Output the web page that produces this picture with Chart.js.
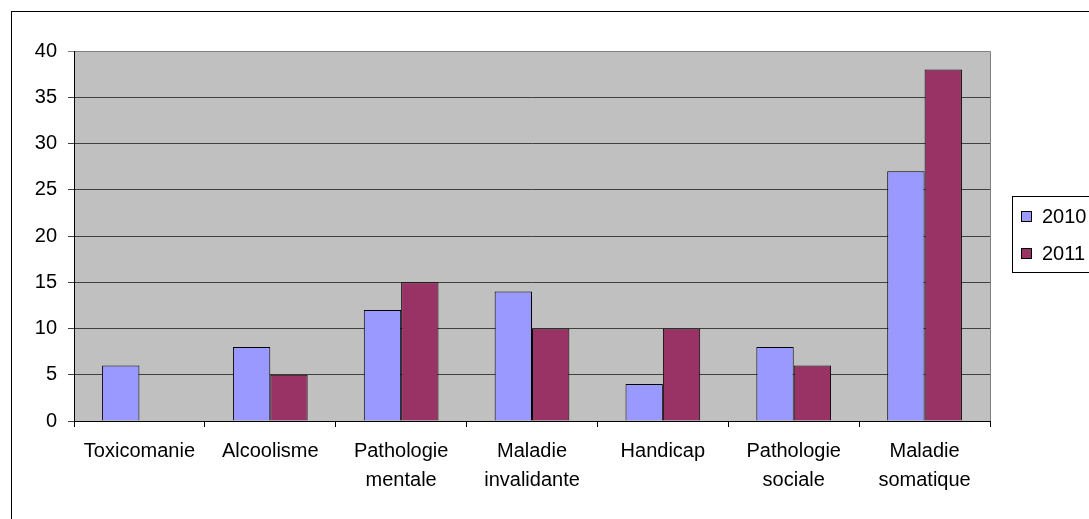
<!DOCTYPE html>
<html>
<head>
<meta charset="utf-8">
<script src="https://cdn.jsdelivr.net/npm/chart.js@4/dist/chart.umd.min.js"></script>
<style>
  html, body { margin: 0; padding: 0; background: #ffffff; }
  #wrap { width: 1089px; height: 519px; position: relative; }
</style>
</head>
<body>
<div id="wrap"><canvas id="c" width="1089" height="519"></canvas></div>
<script>
// Categories (multi-line labels as arrays)
const categories = [
  'Toxicomanie',
  'Alcoolisme',
  ['Pathologie', 'mentale'],
  ['Maladie', 'invalidante'],
  'Handicap',
  ['Pathologie', 'sociale'],
  ['Maladie', 'somatique']
];
const seriesNames = ['2010', '2011'];
const values2010 = [6, 8, 12, 14, 4, 8, 27];
const values2011 = [null, 5, 15, 10, 10, 6, 38];
const yTicks = [0, 5, 10, 15, 20, 25, 30, 35, 40];

const colors = ['#9999FF', '#993366'];
const FONT = 'Liberation Sans, Arial, sans-serif';

// Grey plot-area background, plot frame and outer chart frame
const framePlugin = {
  id: 'frame',
  beforeDraw(chart) {
    const { ctx, chartArea: a } = chart;
    ctx.save();
    ctx.fillStyle = '#ffffff';
    ctx.fillRect(0, 0, chart.width, chart.height);
    ctx.fillStyle = '#C0C0C0';
    ctx.fillRect(a.left, a.top, a.right - a.left, a.bottom - a.top);
    ctx.strokeStyle = '#808080';
    ctx.lineWidth = 1;
    ctx.beginPath();
    ctx.moveTo(a.left, Math.round(a.top) + 0.5);
    ctx.lineTo(Math.round(a.right) + 0.5, Math.round(a.top) + 0.5);
    ctx.lineTo(Math.round(a.right) + 0.5, a.bottom);
    ctx.stroke();
    ctx.strokeStyle = '#000000';
    ctx.strokeRect(11.5, 11.5, chart.width + 40, chart.height + 40);
    ctx.restore();
  }
};

// Boxed legend on the right side
const boxLegendPlugin = {
  id: 'boxLegend',
  afterDraw(chart) {
    const { ctx } = chart;
    const x = 1012.5, y = 196.5, w = 120, h = 76;
    ctx.save();
    ctx.fillStyle = '#ffffff';
    ctx.fillRect(x, y, w, h);
    ctx.strokeStyle = '#000000';
    ctx.lineWidth = 1;
    ctx.strokeRect(x, y, w, h);
    const rows = [216, 253];
    chart.data.datasets.forEach((ds, i) => {
      const cy = rows[i];
      ctx.fillStyle = ds.backgroundColor;
      ctx.fillRect(1021, cy - 5, 11, 11);
      ctx.strokeStyle = '#000000';
      ctx.strokeRect(1021.5, cy - 4.5, 10, 10);
      ctx.fillStyle = '#000000';
      ctx.font = '20px ' + FONT;
      ctx.textBaseline = 'middle';
      ctx.textAlign = 'left';
      ctx.fillText(ds.label, 1042, cy + 1);
    });
    ctx.restore();
  }
};

new Chart(document.getElementById('c'), {
  type: 'bar',
  data: {
    labels: categories,
    datasets: [
      { label: seriesNames[0], data: values2010, backgroundColor: colors[0], borderColor: '#000000', borderWidth: 1 },
      { label: seriesNames[1], data: values2011, backgroundColor: colors[1], borderColor: '#000000', borderWidth: 1 }
    ]
  },
  options: {
    responsive: false,
    animation: false,
    devicePixelRatio: 1,
    layout: { padding: { left: 0, top: 51, right: 99, bottom: 0 } },
    datasets: { bar: { categoryPercentage: 0.571, barPercentage: 1.0 } },
    plugins: { legend: { display: false }, tooltip: { enabled: false } },
    scales: {
      x: {
        offset: true,
        grid: { display: true, drawOnChartArea: false, drawTicks: true, tickLength: 6, color: '#000000', offset: true },
        border: { display: true, color: '#000000', width: 1 },
        ticks: { color: '#000000', padding: 10, maxRotation: 0, autoSkip: false, font: { family: FONT, size: 20, lineHeight: 1.45 } },
        afterFit(scale) { scale.height = 98; }
      },
      y: {
        min: 0,
        max: 40,
        afterBuildTicks(scale) { scale.ticks = yTicks.map(v => ({ value: v })); },
        grid: {
          drawTicks: true,
          tickLength: 6,
          color: (c) => (c.tick && c.tick.value === 40 ? '#808080' : '#404040')
        },
        border: { display: true, color: '#000000', width: 1 },
        ticks: { color: '#000000', padding: 11, font: { family: FONT, size: 20 } },
        afterFit(scale) { scale.width = 74; }
      }
    }
  },
  plugins: [framePlugin, boxLegendPlugin]
});
</script>
</body>
</html>
